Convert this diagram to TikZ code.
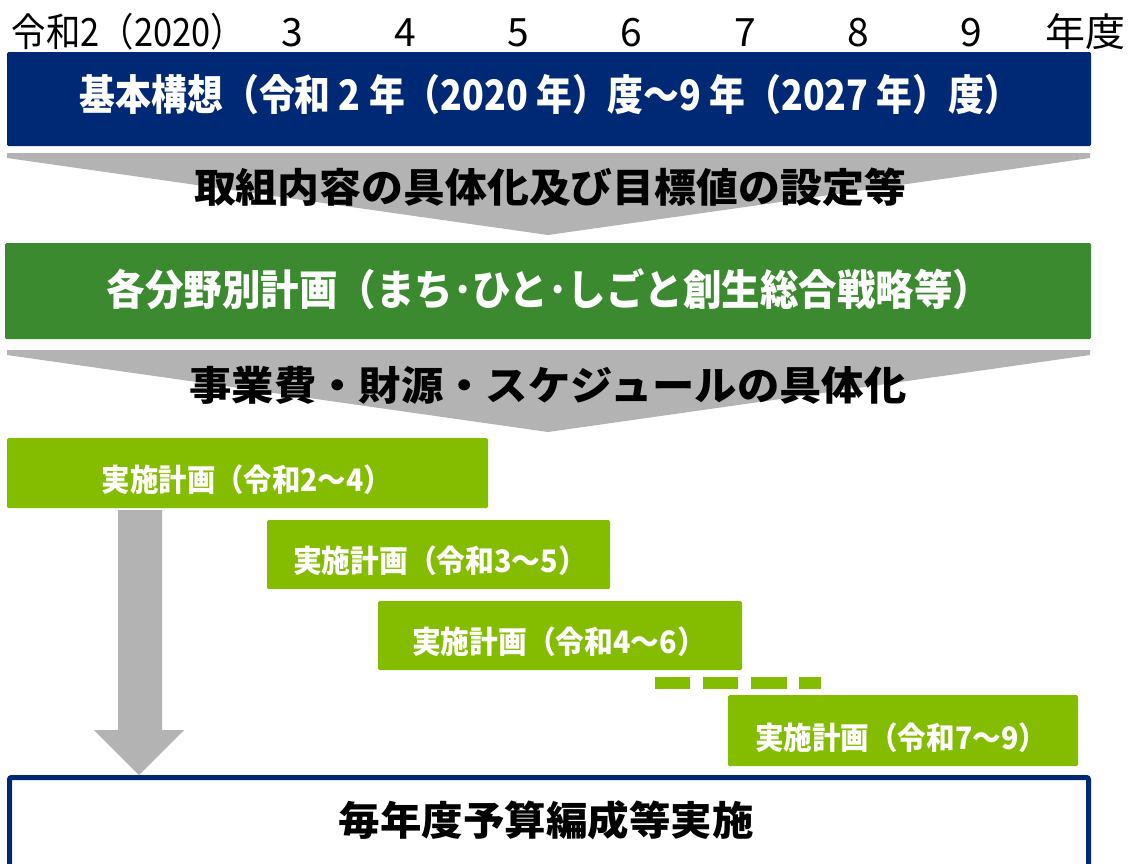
\documentclass[tikz,border=0pt]{standalone}
\usepackage{fontspec}
\usepackage{graphicx}
\newfontfamily\jp{Noto Sans CJK JP}
\definecolor{navy}{RGB}{0,41,117}
\definecolor{dgreen}{RGB}{60,138,47}
\definecolor{lgreen}{RGB}{132,189,0}
\definecolor{agray}{RGB}{179,179,179}
\newcommand{\fitto}[2]{\resizebox{#1}{\height}{#2}}
\tikzset{
  txt/.style={anchor=base,inner sep=0pt,outer sep=0pt},
  hdr/.style={txt,font=\jp\fontsize{39pt}{41pt}\selectfont,text=black},
  bigw/.style={txt,font=\jp\bfseries\fontsize{42pt}{44pt}\selectfont,text=white},
  bigb/.style={txt,font=\jp\bfseries\fontsize{40pt}{42pt}\selectfont,text=black},
  smw/.style={txt,font=\jp\bfseries\fontsize{31pt}{33pt}\selectfont,text=white},
  boxn/.style={rectangle,inner sep=0pt,outer sep=0pt,draw=none,rounded corners=1.5pt},
  plan/.style={boxn,fill=lgreen,minimum height=70pt},
  chev/.style={fill=agray},
}
\begin{document}
\begin{tikzpicture}[x=1pt,y=-1pt]
\useasboundingbox (0,0) rectangle (1136,863);
\fill[white] (0,0) rectangle (1136,863);
% header
\node[hdr] (h2) at (128.5,46) {\fitto{233pt}{令和2（2020）}};
\node[hdr] (h3) at (292,46) {3};
\node[hdr] (h4) at (405,46) {4};
\node[hdr] (h5) at (518,46) {5};
\node[hdr] (h6) at (631,46) {6};
\node[hdr] (h7) at (745,46) {7};
\node[hdr] (h8) at (858,46) {8};
\node[hdr] (h9) at (971,46) {9};
\node[hdr] (hy) at (1085,46) {\fitto{80pt}{年度}};
% basic concept
\node[boxn,fill=navy,minimum width=1084pt,minimum height=94pt] (kihon) at (549,99) {};
\node[bigw] (kihont) at (550,110) {\fitto{940pt}{基本構想（令和 2 年（2020 年）度～9 年（2027 年）度）}};
% chevron 1
\fill[chev] (7,153) -- (1090,153) -- (1090,158) -- (548,235) -- (7,158) -- cycle;
\node[bigb] (c1) at (550,202) {\fitto{712pt}{取組内容の具体化及び目標値の設定等}};
% sector plans
\node[boxn,fill=dgreen,minimum width=1086pt,minimum height=96pt] (bunya) at (548,291) {};
\node[bigw] (bunyat) at (549,305) {\fitto{884pt}{各分野別計画（まち･ひと･しごと創生総合戦略等）}};
% chevron 2
\fill[chev] (7,350) -- (1090,350) -- (1090,355) -- (548,432) -- (7,355) -- cycle;
\node[bigb] (c2) at (548,400) {\fitto{717pt}{事業費・財源・スケジュールの具体化}};
% implementation plans
\node[plan,minimum width=481pt] (pa) at (247.5,473) {};
\node[smw] (pat) at (247,491) {\fitto{290pt}{実施計画（令和2～4）}};
\node[plan,minimum width=343pt,minimum height=69pt] (pb) at (438.5,554.5) {};
\node[smw] (pbt) at (440,572) {\fitto{294pt}{実施計画（令和3～5）}};
\node[plan,minimum width=364pt,minimum height=69pt] (pc) at (560,635.5) {};
\node[smw] (pct) at (559,653) {\fitto{294pt}{実施計画（令和4～6）}};
\node[plan,minimum width=350pt,minimum height=71pt] (pd) at (903,730.5) {};
\node[smw] (pdt) at (901,749) {\fitto{292pt}{実施計画（令和7～9）}};
% dashes
\fill[lgreen] (655,677) rectangle (690,689);
\fill[lgreen] (703,677) rectangle (738,689);
\fill[lgreen] (751,677) rectangle (787,689);
\fill[lgreen] (799,677) rectangle (821,689);
% bottom box
\draw[navy,line width=5pt,rounded corners=2pt] (9.5,777.5) rectangle (1088.5,900);
\node[bigb,font=\jp\bfseries\fontsize{40pt}{42pt}\selectfont] (yosan) at (546,835) {\fitto{415pt}{毎年度予算編成等実施}};
% down arrow
\fill[agray] (118,510) -- (162,510) -- (162,730) -- (184,730) -- (139,775) -- (94,730) -- (118,730) -- cycle;
\end{tikzpicture}
\end{document}
